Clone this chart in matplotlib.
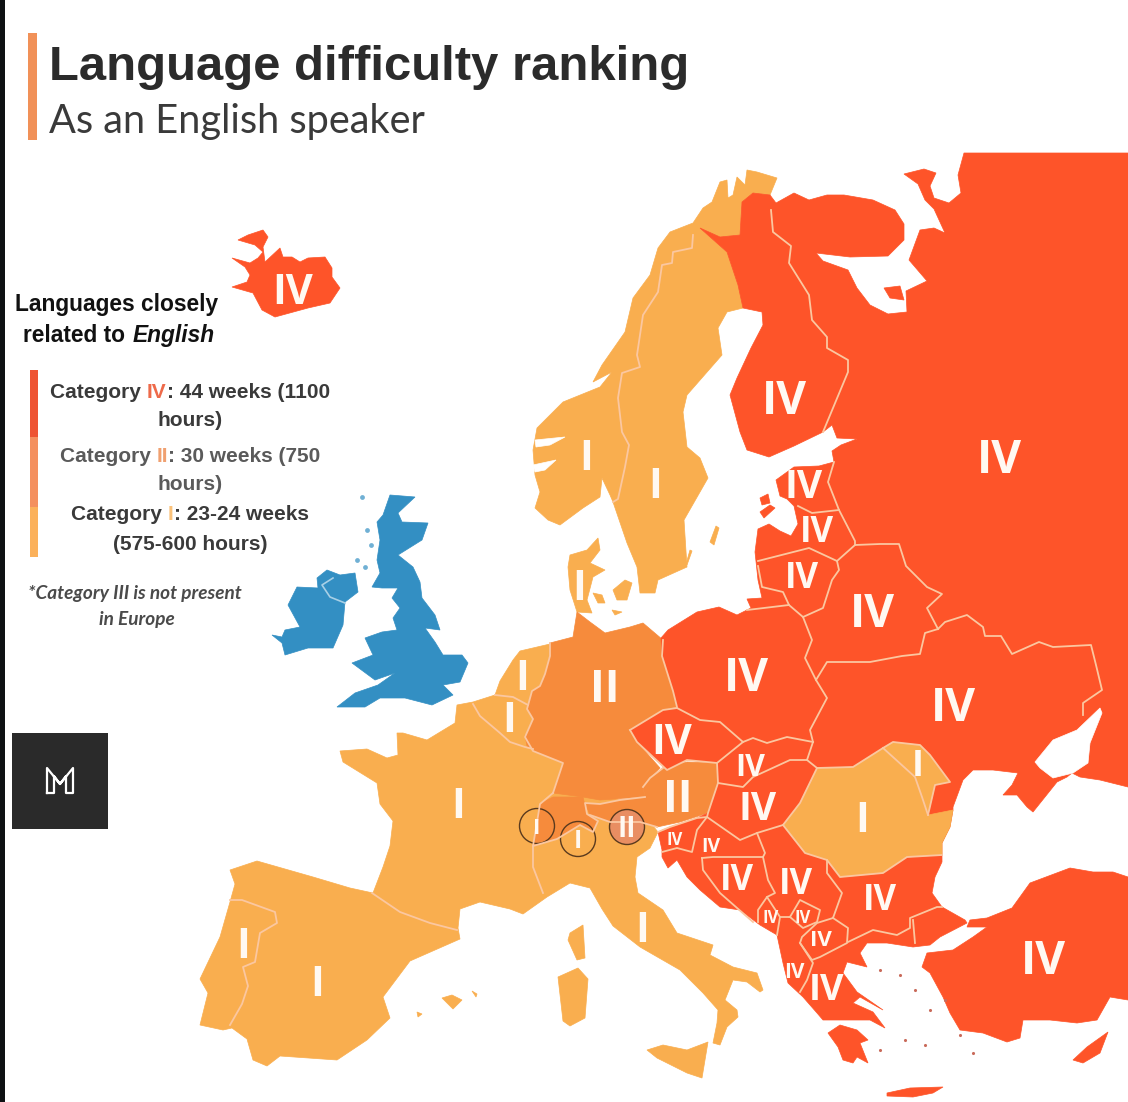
import matplotlib
matplotlib.use("Agg")
import matplotlib.pyplot as plt
from matplotlib.patches import Circle, Polygon, Rectangle

CAT_I = "#F9AE4F"
CAT_II = "#F68B3C"
CAT_IV = "#FE5429"
UK_BLUE = "#338FC3"
BORDER = "#FBC7A0"

# outlines, pixel x/y of the reference image
RED_MAIN = [(1128, 153), (964, 153), (958, 175), (961, 193), (949, 203), (934, 198), (930, 186), (936, 173),
            (924, 169), (904, 174), (918, 184), (925, 200), (934, 209), (945, 233), (934, 228), (920, 230),
            (909, 260), (927, 281), (906, 291), (907, 312), (888, 314), (870, 305), (857, 288), (848, 270),
            (823, 261), (816, 253), (850, 257), (888, 256), (904, 240), (904, 224), (895, 210), (873, 200),
            (844, 195), (827, 195), (809, 200), (794, 193), (776, 203), (770, 195), (753, 193), (742, 202),
            (740, 235), (720, 237), (700, 228), (727, 252), (738, 285), (743, 308), (762, 312),
            (763, 325), (751, 348), (737, 378), (730, 395), (740, 432), (747, 450), (769, 457), (794, 446),
            (823, 432), (832, 425), (837, 438), (857, 439), (841, 445), (832, 451), (834, 462), (819, 466),
            (794, 467), (776, 480), (780, 496), (787, 499), (794, 506), (798, 524), (791, 536), (780, 531),
            (769, 524), (758, 529), (755, 552), (758, 580), (762, 598), (747, 599), (751, 608), (737, 615),
            (719, 607), (697, 612), (668, 630), (661, 638), (662, 656), (673, 691), (677, 707), (717, 763),
            (718, 783), (708, 813), (697, 818), (670, 827), (658, 832), (662, 850), (662, 857), (668, 868),
            (677, 860), (687, 877), (700, 890), (720, 907), (740, 910), (760, 925), (777, 935), (783, 963),
            (788, 983), (803, 997), (817, 1013), (823, 1020), (847, 1020), (870, 1020), (885, 1028), (873, 1012),
            (853, 1003), (860, 997), (883, 1010), (857, 992), (843, 973), (847, 962), (867, 967), (860, 953),
            (867, 943), (887, 943), (913, 947), (930, 945), (940, 937), (967, 923), (965, 920), (942, 907),
            (932, 893), (935, 877), (942, 862), (942, 843), (950, 827), (953, 810), (953, 807), (963, 780),
            (973, 770), (993, 770), (1018, 773), (1012, 785), (1003, 795), (1017, 795), (1027, 807), (1033, 812),
            (1057, 782), (1067, 777), (1072, 773), (1080, 777), (1100, 780), (1128, 787)]
PELOPONNESE = [(828, 1033), (840, 1025), (857, 1030), (868, 1040), (860, 1043), (868, 1063), (857, 1057),
               (853, 1063), (843, 1060), (838, 1047)]
ANATOLIA = [(970, 920), (987, 918), (1012, 908), (1030, 883), (1070, 868), (1093, 872), (1113, 872), (1128, 877),
            (1128, 1000), (1110, 997), (1097, 1020), (1077, 1023), (1050, 1020), (1023, 1020), (1020, 1038),
            (1007, 1042), (983, 1033), (960, 1030), (950, 1013), (943, 997), (930, 973), (922, 967), (927, 953),
            (953, 950), (973, 937), (987, 927), (967, 927)]
CYPRUS = [(1073, 1060), (1087, 1047), (1108, 1032), (1100, 1053), (1083, 1063)]
CRETE = [(887, 1093), (910, 1088), (943, 1087), (933, 1093), (913, 1097), (887, 1096)]
ONEGA_ISLE = [(884, 288), (900, 286), (904, 300), (890, 298)]
EST_ISLES = [(760, 498), (768, 494), (770, 503), (762, 505)]
EST_ISLES2 = [(760, 512), (770, 505), (775, 508), (764, 518)]
AZOV = [(1035, 762), (1053, 740), (1077, 730), (1100, 708), (1102, 713), (1090, 743), (1088, 763), (1073, 773),
        (1053, 778), (1040, 768)]
CZECH = [(630, 730), (663, 710), (677, 708), (700, 720), (720, 722), (743, 742), (717, 763), (687, 760),
         (667, 770), (637, 742)]

SCANDINAVIA = [(777, 178), (757, 172), (747, 170), (745, 185), (737, 177), (733, 195), (728, 198), (727, 180),
               (720, 182), (712, 202), (703, 208), (693, 223), (670, 232), (658, 248), (650, 275), (633, 298),
               (625, 332), (602, 365), (593, 382), (612, 372), (600, 387), (563, 402), (537, 428), (533, 450),
               (535, 475), (540, 492), (535, 508), (548, 520), (560, 525), (583, 508), (600, 497), (602, 478),
               (610, 495), (613, 502), (627, 543), (637, 567), (640, 593), (655, 593), (658, 580), (687, 567),
               (684, 520), (708, 478), (700, 458), (687, 447), (683, 412), (687, 395), (722, 355), (718, 328),
               (727, 312), (743, 308), (738, 285), (727, 252), (700, 228), (720, 237), (740, 235), (742, 202),
               (753, 193), (770, 195)]
FJORD_A = [(535, 440), (565, 437), (550, 445), (536, 447)]
FJORD_B = [(533, 465), (556, 460), (545, 470), (535, 472)]
GOTLAND = [(716, 526), (719, 528), (714, 545), (710, 542)]
OLAND = [(690, 550), (692, 551), (687, 565), (686, 564)]
JUTLAND = [(568, 567), (570, 555), (587, 550), (598, 538), (600, 550), (590, 563), (605, 570), (593, 577),
           (587, 600), (592, 613), (577, 612), (570, 590)]
FUNEN = [(593, 593), (602, 595), (605, 603), (598, 603)]
ZEALAND = [(613, 590), (625, 580), (632, 583), (627, 600), (617, 600)]
LOLLAND = [(612, 610), (622, 612), (615, 615)]

WEST = [(340, 751), (367, 749), (387, 758), (398, 755), (397, 733), (403, 733), (427, 740), (455, 723), (457, 705),
        (473, 702), (495, 695), (500, 681), (513, 660), (520, 651), (550, 644), (575, 700), (600, 790), (640, 810),
        (658, 832), (650, 848), (637, 857), (635, 877), (638, 893), (663, 910), (677, 933), (713, 945), (710, 955),
        (733, 967), (757, 973), (763, 990), (760, 992), (747, 982), (733, 980), (725, 1000), (737, 1010), (738, 1017),
        (727, 1027), (720, 1045), (713, 1043), (717, 1023), (718, 1010), (703, 993), (680, 970), (640, 947),
        (613, 926), (602, 909), (590, 888), (570, 883), (547, 897), (523, 914), (510, 909), (480, 902), (460, 909),
        (458, 928), (460, 939), (410, 961), (383, 997), (390, 1018), (367, 1040), (337, 1060), (280, 1056),
        (267, 1066), (253, 1060), (247, 1039), (232, 1028), (223, 1030), (200, 1025), (208, 993), (200, 979),
        (220, 937), (230, 902), (235, 884), (230, 870), (257, 861), (313, 877), (350, 888), (373, 893), (383, 867),
        (390, 846), (393, 821), (380, 804), (377, 783), (343, 762)]
CORSICA = [(570, 933), (583, 925), (585, 958), (577, 960), (568, 940)]
SARDINIA = [(558, 977), (578, 968), (588, 979), (585, 1018), (570, 1026), (563, 1021)]
SICILY = [(647, 1050), (663, 1045), (687, 1050), (708, 1042), (702, 1078), (687, 1073), (657, 1058)]
MALLORCA = [(442, 998), (452, 995), (462, 1000), (453, 1009)]
MENORCA = [(472, 991), (477, 994), (476, 997)]
IBIZA = [(417, 1012), (422, 1014), (418, 1017)]

GERMANY = [(577, 612), (590, 622), (605, 633), (630, 627), (643, 623), (663, 640), (662, 656), (673, 691), (677, 707),
           (663, 710), (630, 730), (637, 742), (660, 768), (650, 778), (643, 787), (645, 797), (600, 800), (583, 797),
           (553, 793), (563, 763), (533, 751), (525, 737), (533, 719), (527, 709), (532, 691), (540, 686), (545, 674),
           (550, 656), (550, 643), (573, 637)]
LUXEMBOURG = [(525, 735), (533, 739), (533, 749), (527, 746)]
AUSTRIA = [(585, 803), (600, 804), (620, 800), (645, 797), (643, 787), (650, 778), (663, 768), (687, 762), (717, 763),
           (718, 783), (708, 813), (680, 822), (657, 827), (640, 822), (610, 822), (590, 815)]
SWISS = [(540, 804), (553, 797), (583, 797), (587, 814), (598, 821), (593, 832), (580, 825), (557, 839), (533, 846)]

ROMANIA = [(817, 768), (853, 767), (883, 748), (893, 742), (920, 745), (930, 755), (950, 782), (935, 785), (928, 815),
           (953, 810), (950, 827), (942, 843), (942, 855), (907, 857), (883, 873), (840, 877), (827, 860), (805, 853),
           (783, 825), (800, 803)]

GREAT_BRITAIN = [(390, 495), (415, 497), (398, 513), (402, 522), (428, 523), (422, 540), (398, 555), (413, 567),
                 (420, 582), (422, 598), (435, 615), (440, 630), (425, 628), (435, 642), (443, 655), (462, 655),
                 (468, 663), (460, 682), (443, 685), (453, 695), (432, 705), (405, 698), (380, 698), (365, 707),
                 (337, 707), (355, 693), (378, 685), (395, 673), (375, 680), (352, 663), (373, 655), (365, 638),
                 (382, 632), (397, 630), (393, 618), (400, 608), (392, 598), (398, 588), (382, 588), (372, 587),
                 (380, 573), (377, 560), (380, 540), (377, 522), (383, 515)]
IRELAND = [(272, 635), (282, 637), (285, 630), (300, 627), (288, 605), (297, 587), (318, 588), (317, 578), (327, 570),
           (340, 575), (355, 573), (358, 592), (345, 602), (343, 625), (333, 648), (308, 648), (285, 655), (282, 643)]
ICELAND = [(232, 258), (250, 263), (258, 258), (263, 252), (255, 245), (238, 240), (248, 235), (263, 230), (268, 237),
           (263, 247), (265, 262), (280, 248), (283, 257), (292, 257), (300, 262), (308, 258), (325, 257), (332, 268),
           (332, 277), (340, 288), (330, 303), (308, 308), (275, 317), (262, 310), (253, 293), (232, 287), (247, 282),
           (250, 275), (245, 267)]

FILLS = [(WEST, CAT_I), (CORSICA, CAT_I), (SARDINIA, CAT_I), (SICILY, CAT_I), (MALLORCA, CAT_I), (MENORCA, CAT_I),
         (IBIZA, CAT_I), (SCANDINAVIA, CAT_I), (FJORD_A, "white"), (FJORD_B, "white"), (GOTLAND, CAT_I), (OLAND, CAT_I),
         (JUTLAND, CAT_I), (FUNEN, CAT_I), (ZEALAND, CAT_I), (LOLLAND, CAT_I),
         (GERMANY, CAT_II), (LUXEMBOURG, CAT_II), (AUSTRIA, CAT_II), (SWISS, CAT_II),
         (RED_MAIN, CAT_IV), (PELOPONNESE, CAT_IV), (ANATOLIA, CAT_IV), (CYPRUS, CAT_IV), (CRETE, CAT_IV),
         (ONEGA_ISLE, CAT_IV), (EST_ISLES, CAT_IV), (EST_ISLES2, CAT_IV), (CZECH, CAT_IV), (ROMANIA, CAT_I),
         (AZOV, "white"), (GREAT_BRITAIN, UK_BLUE), (IRELAND, UK_BLUE), (ICELAND, CAT_IV)]

# borders between countries
BORDERS = [
    [(693, 235), (692, 248), (673, 252), (672, 263), (662, 265), (658, 292), (643, 315), (637, 355), (640, 367), (622, 373), (618, 398), (622, 432), (629, 445), (625, 467), (618, 499), (613, 502)],
    [(771, 210), (773, 232), (791, 246), (789, 263), (809, 295), (812, 320), (827, 337), (827, 348), (848, 360), (848, 372), (823, 432)],
    [(834, 462), (828, 482), (839, 510), (855, 541), (855, 545), (880, 544), (899, 544), (906, 566), (927, 587), (942, 594), (927, 608), (938, 629)],
    [(839, 510), (812, 513), (798, 506)],
    [(855, 545), (837, 561), (809, 548), (758, 561)],
    [(758, 566), (762, 587), (783, 592), (789, 605), (803, 617), (823, 608), (832, 580), (839, 570), (837, 561)],
    [(747, 610), (789, 605)],
    [(803, 617), (812, 640), (805, 658), (816, 680)],
    [(938, 629), (925, 633), (920, 654), (902, 656), (870, 662), (827, 662), (816, 680), (827, 698), (810, 730), (813, 742)],
    [(938, 629), (945, 622), (967, 615), (983, 627), (985, 636), (1001, 636), (1012, 654), (1039, 642), (1053, 647), (1091, 645), (1096, 665), (1102, 690), (1083, 703), (1083, 715)],
    [(663, 640), (662, 656), (673, 691), (677, 707)],
    [(630, 730), (663, 710), (677, 708), (700, 720), (720, 722), (743, 742), (753, 738), (767, 743), (787, 737), (813, 742)],
    [(630, 730), (637, 742), (667, 770), (687, 760), (717, 763), (743, 742)],
    [(717, 763), (718, 783), (743, 787), (753, 777), (790, 760), (807, 760), (813, 742)],
    [(643, 787), (650, 778), (663, 768)],
    [(718, 783), (708, 813), (707, 817), (740, 840), (757, 833), (783, 825)],
    [(807, 760), (817, 768), (853, 767), (883, 748), (893, 742), (920, 745), (930, 755), (950, 782), (935, 785), (928, 815)],
    [(817, 768), (800, 803), (783, 825), (805, 853), (827, 860), (840, 877), (883, 873), (907, 857), (942, 855)],
    [(883, 748), (915, 777), (922, 797), (928, 815)],
    [(658, 832), (670, 827), (697, 818), (707, 817), (697, 830), (692, 852), (677, 848), (662, 852)],
    [(702, 858), (713, 857), (763, 857), (765, 853), (757, 833)],
    [(702, 858), (703, 870), (720, 893), (753, 922)],
    [(763, 857), (768, 880), (775, 893), (767, 897), (758, 910), (758, 922)],
    [(767, 897), (780, 917), (777, 935)],
    [(780, 917), (790, 917), (800, 900), (820, 910), (817, 922), (803, 928), (790, 917)],
    [(827, 860), (827, 873), (842, 893), (833, 918), (817, 923), (802, 937), (800, 943), (812, 960), (820, 957), (847, 943), (848, 928), (833, 918)],
    [(800, 943), (813, 963), (807, 980), (800, 992)],
    [(848, 942), (873, 930), (897, 935), (910, 928), (910, 918), (937, 907), (942, 907)],
    [(913, 920), (915, 943)],
    [(533, 846), (557, 839), (580, 825), (593, 832), (598, 821), (587, 814), (585, 803), (600, 804), (620, 800), (645, 797)],
    [(553, 793), (563, 763), (533, 751), (525, 737), (533, 719), (527, 709), (532, 691), (540, 686), (545, 674), (550, 656), (550, 643)],
    [(553, 793), (540, 804), (533, 846), (533, 867), (543, 893)],
    [(590, 815), (610, 822), (640, 822), (657, 827)],
    [(372, 893), (400, 912), (430, 923), (457, 930)],
    [(230, 900), (242, 900), (275, 912), (277, 923), (260, 933), (255, 962), (243, 967), (248, 986), (242, 1004), (230, 1025)],
    [(473, 704), (480, 716), (500, 733), (510, 742), (525, 747), (533, 749)],
    [(495, 695), (513, 697), (528, 705)],
]

IRISH_BORDER = [(333, 578), (322, 585), (330, 597), (345, 603)]
HEBRIDES_X = [362, 367, 357, 365, 371]
HEBRIDES_Y = [497, 530, 560, 567, 545]

LABELS = ["IV", "IV", "IV", "IV", "IV", "IV", "IV", "IV", "IV", "IV", "IV", "IV", "IV", "IV", "IV", "IV", "IV", "IV",
          "IV", "IV", "IV", "IV", "IV",
          "I", "I", "I", "I", "I", "I", "I", "I", "I", "I", "I", "I", "I",
          "II", "II", "II"]
LABEL_X = [293, 784, 999, 804, 817, 802, 872, 746, 953, 672, 750, 758, 675, 711, 737, 796, 880, 771, 803, 821, 794, 826, 1043,
           586, 655, 579, 522, 509, 458, 537, 578, 642, 243, 317, 862, 918,
           605, 678, 627]
LABEL_Y = [289, 396, 455, 483, 529, 574, 609, 673, 703, 739, 764, 805, 838, 844, 877, 880, 897, 916, 916, 938, 970, 986, 956,
           455, 483, 585, 675, 716, 803, 826, 839, 927, 942, 980, 816, 763,
           685, 795, 826]
LABEL_H = [30, 33, 33, 28, 25, 25, 33, 33, 33, 30, 22, 28, 12, 14, 25, 25, 25, 12, 12, 16, 15, 26, 33,
           30, 30, 30, 30, 30, 30, 16, 18, 30, 30, 30, 30, 26,
           32, 32, 20]

CIRCLES_X = [537, 578, 627]
CIRCLES_Y = [826, 839, 827]

AEGEAN_X = [880, 900, 915, 930, 945, 905, 925, 960, 880, 973]
AEGEAN_Y = [970, 975, 990, 1010, 1000, 1040, 1045, 1035, 1050, 1053]

BAR_SPANS = [(370, 437, "#EE5433"), (437, 507, "#F4905F"), (507, 557, "#FBB15B")]

LOGO_OUTER = [(47, 793), (47, 768), (60, 784), (73, 768), (73, 793), (66, 793), (66, 776), (60, 784), (54, 776), (54, 793), (47, 793)]

plt.rcParams["font.family"] = ["Liberation Sans", "DejaVu Sans"]

fig = plt.figure(figsize=(11.28, 11.02), dpi=100)
ax = fig.add_axes([0, 0, 1, 1])
ax.set_xlim(0, 1128)
ax.set_ylim(1102, 0)
ax.axis("off")

ax.add_patch(Rectangle((0, 0), 5, 1102, color="#0E1113", lw=0))

for outline, colour in FILLS:
    ax.add_patch(Polygon(outline, closed=True, facecolor=colour, edgecolor=colour, lw=0.5))

for line in BORDERS:
    ax.plot([p[0] for p in line], [p[1] for p in line], color=BORDER, lw=1.3, solid_joinstyle="round")
ax.plot([p[0] for p in IRISH_BORDER], [p[1] for p in IRISH_BORDER], color="#A8D0E6", lw=1.2)

ax.scatter(AEGEAN_X, AEGEAN_Y, s=5, color="#C96A5A", lw=0)
ax.scatter(HEBRIDES_X, HEBRIDES_Y, s=12, color=UK_BLUE, alpha=0.7, lw=0)

# the three circled micro labels
for i, (cx, cy) in enumerate(zip(CIRCLES_X, CIRCLES_Y)):
    fill = "#E98E62" if i == 2 else "none"
    ax.add_patch(Circle((cx, cy), 17.5, facecolor=fill, edgecolor="#5A3A1E", lw=1))

for lab, x, y, h in zip(LABELS, LABEL_X, LABEL_Y, LABEL_H):
    ax.text(x, y, lab, color="#FFF9F2", ha="center", va="center_baseline", fontweight="bold",
            fontsize=h, family=["Open Sans", "DejaVu Sans"])

# title block
ax.add_patch(Rectangle((28, 33), 9, 107, color="#F19158", lw=0))
ax.text(49, 80, "Language difficulty ranking", color="#2B2B2B", fontsize=35.3, fontweight="bold", va="baseline")
ax.text(49, 133, "As an English speaker", color="#3A3A3A", fontsize=28.6, va="baseline", family=["Lato", "DejaVu Sans"])

# legend bar
for y0, y1, colour in BAR_SPANS:
    ax.add_patch(Rectangle((30, y0), 8, y1 - y0, color=colour, lw=0))


def mixed_line(cx, y, parts, size, **kw):
    # centre a line of differently coloured pieces on cx
    r = fig.canvas.get_renderer()
    items = [ax.text(0, y, s, color=c, fontsize=size, fontweight="bold", va="center_baseline", **kw) for s, c in parts]
    widths = []
    inv = ax.transData.inverted()
    for t in items:
        bb = t.get_window_extent(r)
        widths.append(inv.transform((bb.x1, 0))[0] - inv.transform((bb.x0, 0))[0])
    x = cx - sum(widths) / 2
    for t, w in zip(items, widths):
        t.set_x(x)
        x += w


ax.text(117, 302, "Languages closely", color="#111111", fontsize=16.4, fontweight="bold", ha="center", va="center_baseline")
r = fig.canvas.get_renderer()
t1 = ax.text(23, 333, "related to ", color="#111111", fontsize=16.4, fontweight="bold", va="center_baseline")
bb = t1.get_window_extent(r)
ax.text(ax.transData.inverted().transform((bb.x1, 0))[0] + 1, 333, "English", color="#111111", fontsize=16.4,
        fontweight="bold", fontstyle="italic", va="center_baseline")

mixed_line(190, 391, [("Category ", "#3A3A3A"), ("IV", "#EE6A4A"), (": 44 weeks (1100", "#3A3A3A")], 15)
mixed_line(190, 418, [("hours)", "#3A3A3A")], 15)
mixed_line(190, 454, [("Category ", "#5A5A5A"), ("II", "#F0A070"), (": 30 weeks (750", "#5A5A5A")], 15)
mixed_line(190, 482, [("hours)", "#5A5A5A")], 15)
mixed_line(190, 513, [("Category ", "#3A3A3A"), ("I", "#FBC27A"), (": 23-24 weeks", "#3A3A3A")], 15)
mixed_line(190, 542, [("(575-600 hours)", "#3A3A3A")], 15)

ax.text(135, 592, "*Category III is not present", color="#4A4A4A", fontsize=13.7, fontweight="bold", fontstyle="italic",
        ha="center", va="center_baseline", family=["Lato", "DejaVu Sans"])
ax.text(137, 618, "in Europe", color="#4A4A4A", fontsize=13.7, fontweight="bold", fontstyle="italic",
        ha="center", va="center_baseline", family=["Lato", "DejaVu Sans"])

# logo tile
ax.add_patch(Rectangle((12, 733), 96, 96, color="#2A2A2A", lw=0))
ax.plot([p[0] for p in LOGO_OUTER], [p[1] for p in LOGO_OUTER], color="white", lw=1.6)

fig.savefig("out.png", dpi=100)
